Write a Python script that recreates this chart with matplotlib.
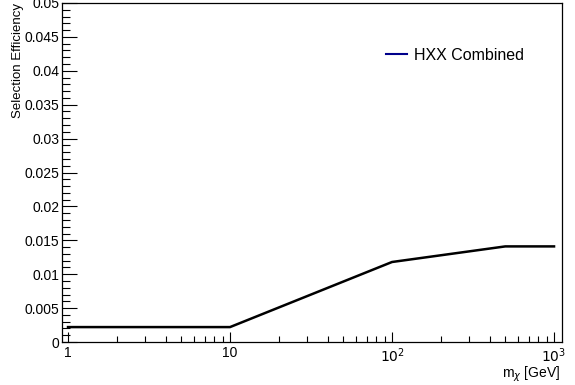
import numpy as np
import matplotlib.pyplot as plt
from matplotlib.lines import Line2D
from matplotlib.ticker import FixedLocator, FixedFormatter, MultipleLocator, LogLocator, NullFormatter

plt.rcParams['font.family'] = ['Liberation Sans', 'DejaVu Sans']

# dark matter mass points and selection efficiency
mass = [1, 10, 100, 500, 1000]
efficiency = [0.0022, 0.0022, 0.0118, 0.0141, 0.0141]
legend_label = "HXX Combined"

fig = plt.figure(figsize=(5.75, 3.85), dpi=100)
ax = fig.add_axes([62 / 575, 1 - 342 / 385, (562 - 62) / 575, (342 - 3) / 385])

ax.plot(mass, efficiency, color='black', lw=1.8)

ax.set_xscale('log')
ax.set_xlim(0.918, 1120)
ax.set_ylim(0, 0.05)

# axis ticks, ROOT style: inward, left and bottom only
ax.xaxis.set_major_locator(FixedLocator([1, 10, 100, 1000]))
ax.xaxis.set_major_formatter(FixedFormatter(['1', '10', r'$10^{2}$', r'$10^{3}$']))
ax.xaxis.set_minor_locator(LogLocator(base=10, subs=np.arange(2, 10)))
ax.xaxis.set_minor_formatter(NullFormatter())
ax.yaxis.set_major_locator(MultipleLocator(0.005))
ax.yaxis.set_minor_locator(MultipleLocator(0.001))
ax.yaxis.set_major_formatter(plt.FuncFormatter(lambda v, p: ('%g' % round(v, 4))))

ax.tick_params(which='both', direction='in', top=False, right=False, labelsize=10, colors='black')
ax.tick_params(axis='y', which='major', length=11, width=0.8, pad=2)
ax.tick_params(axis='y', which='minor', length=5.5, width=0.8)
ax.tick_params(axis='x', which='major', length=7.5, width=0.8, pad=3)
ax.tick_params(axis='x', which='minor', length=4, width=0.8)
for s in ax.spines.values():
    s.set_linewidth(0.9)

ax.set_ylabel('Selection Efficiency', fontsize=9.5)
ax.yaxis.set_label_coords(-0.075, 1.0)
ax.yaxis.label.set_horizontalalignment('right')
ax.set_xlabel(r'm$_{\chi}$ [GeV]', fontsize=10)
ax.xaxis.set_label_coords(0.997, -0.066)
ax.xaxis.label.set_horizontalalignment('right')

handle = Line2D([], [], color='#00008b', lw=1.5)
ax.legend([handle], [legend_label], loc='center left', bbox_to_anchor=(0.62, 0.845),
          frameon=False, fontsize=11.5, handlelength=1.3, handletextpad=0.45)

fig.savefig('out.png', dpi=100)
